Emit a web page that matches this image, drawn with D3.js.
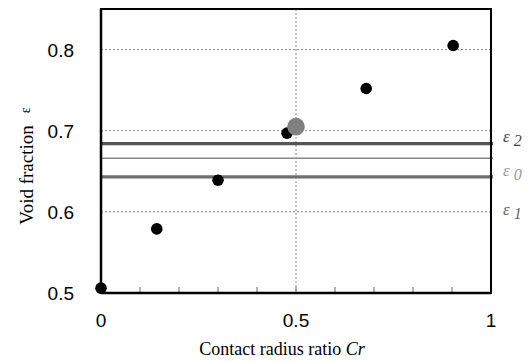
<!DOCTYPE html>
<html>
<head>
<meta charset="utf-8">
<script src="https://cdn.jsdelivr.net/npm/d3@7"></script>
<style>
body { margin: 0; background: #fff; }
</style>
</head>
<body>
<div id="chart"></div>
<script>
// data
var crValues = [0, 0.143, 0.30, 0.477, 0.68, 0.903];
var voidValues = [0.506, 0.579, 0.639, 0.697, 0.752, 0.805];
var markCr = [0.5];
var markVoid = [0.705];
var epsNames = ['2', '0', '1'];
var epsValues = [0.684, 0.666, 0.643];
var xTickLabels = [0, 0.5, 1];
var yTickLabels = [0.5, 0.6, 0.7, 0.8];

var svgWidth = 532;
var svgHeight = 362;

var margins = { top: 9, bottom: 69, right: 41, left: 101 };
var width = svgWidth - margins.left - margins.right;
var height = svgHeight - margins.top - margins.bottom;

var svg = d3.select('#chart')
    .append('svg')
    .attr('width', svgWidth)
    .attr('height', svgHeight);

var chartGroup = svg.append('g')
    .attr('transform', `translate(${margins.left}, ${margins.top})`);

var x = d3.scaleLinear().domain([0, 1]).range([0, width]);
var y = d3.scaleLinear().domain([0.5, 0.85]).range([height, 0]);

// dotted grid
chartGroup.selectAll('.hgrid')
    .data([0.6, 0.7, 0.8])
    .enter().append('line')
    .attr('x1', 0).attr('x2', width)
    .attr('y1', d => y(d)).attr('y2', d => y(d))
    .attr('stroke', '#888').attr('stroke-width', 1)
    .attr('stroke-dasharray', '2,2');

chartGroup.append('line')
    .attr('x1', x(0.5)).attr('x2', x(0.5))
    .attr('y1', 0).attr('y2', height)
    .attr('stroke', '#888').attr('stroke-width', 1)
    .attr('stroke-dasharray', '2,2');

// epsilon levels
var epsStyle = {
    '2': { color: '#555', w: 3.2, text: '#444' },
    '0': { color: '#888', w: 1.6, text: '#999' },
    '1': { color: '#6e6e6e', w: 3.2, text: '#666' }
};
var labelY = { '2': 137, '0': 171, '1': 210 };

epsNames.forEach(function(n, i) {
    chartGroup.append('line')
        .attr('x1', x(0)).attr('x2', x(1) + 2)
        .attr('y1', y(epsValues[i])).attr('y2', y(epsValues[i]))
        .attr('stroke', epsStyle[n].color)
        .attr('stroke-width', epsStyle[n].w);

    var t = svg.append('text')
        .attr('x', 503)
        .attr('y', labelY[n] + 5)
        .style('font-family', '"Liberation Serif", "Times New Roman", serif')
        .style('font-style', 'italic')
        .style('font-size', '17px')
        .style('fill', epsStyle[n].text);
    t.append('tspan').text('\u03b5');
    t.append('tspan').attr('dx', 4).attr('dy', 4).style('font-size', '16px').text(n);
});

// minor ticks on x, pointing inward
chartGroup.selectAll('.xtick')
    .data(d3.range(1, 10).map(d => d / 10))
    .enter().append('line')
    .attr('x1', d => x(d)).attr('x2', d => x(d))
    .attr('y1', height).attr('y2', height - 6)
    .attr('stroke', '#666').attr('stroke-width', 1);

// frame
chartGroup.append('rect')
    .attr('x', 0).attr('y', 0)
    .attr('width', width).attr('height', height)
    .attr('fill', 'none')
    .attr('stroke', '#000').attr('stroke-width', 2);

chartGroup.append('line')
    .attr('x1', 0).attr('x2', width)
    .attr('y1', height).attr('y2', height)
    .attr('stroke', '#000').attr('stroke-width', 2.5);
chartGroup.append('line')
    .attr('x1', 0).attr('x2', 0)
    .attr('y1', 0).attr('y2', height)
    .attr('stroke', '#000').attr('stroke-width', 2.5);

// points
chartGroup.selectAll('.pt')
    .data(crValues)
    .enter().append('circle')
    .attr('cx', d => x(d))
    .attr('cy', (d, i) => y(voidValues[i]))
    .attr('r', 5.8)
    .attr('fill', '#000');

chartGroup.selectAll('.mark')
    .data(markCr)
    .enter().append('circle')
    .attr('cx', d => x(d))
    .attr('cy', (d, i) => y(markVoid[i]))
    .attr('r', 8.8)
    .attr('fill', '#808080');

// tick labels
var sans = '"Liberation Sans", Arial, sans-serif';
var serif = '"Liberation Serif", "Times New Roman", serif';

chartGroup.selectAll('.ylab')
    .data(yTickLabels)
    .enter().append('text')
    .attr('x', -27)
    .attr('y', d => y(d) + 7)
    .style('text-anchor', 'end')
    .style('font-family', sans)
    .style('font-size', '19px')
    .text(d => d3.format('.1f')(d));

chartGroup.selectAll('.xlab')
    .data(xTickLabels)
    .enter().append('text')
    .attr('x', d => x(d))
    .attr('y', height + 34)
    .style('text-anchor', 'middle')
    .style('font-family', sans)
    .style('font-size', '19px')
    .text(d => d);

// axis titles
var xt = svg.append('text')
    .attr('x', 282)
    .attr('y', 355)
    .style('text-anchor', 'middle')
    .style('font-family', serif)
    .style('font-size', '18px');
xt.append('tspan').text('Contact radius ratio ');
xt.append('tspan').style('font-style', 'italic').text('Cr');

var yt = svg.append('text')
    .attr('transform', 'translate(33, 166) rotate(-90)')
    .style('text-anchor', 'middle')
    .style('font-family', serif)
    .style('font-size', '19px');
yt.append('tspan').text('Void fraction');
yt.append('tspan').attr('dx', 12).attr('dy', -3).style('font-size', '14px').text('\u03b5');
</script>
</body>
</html>
